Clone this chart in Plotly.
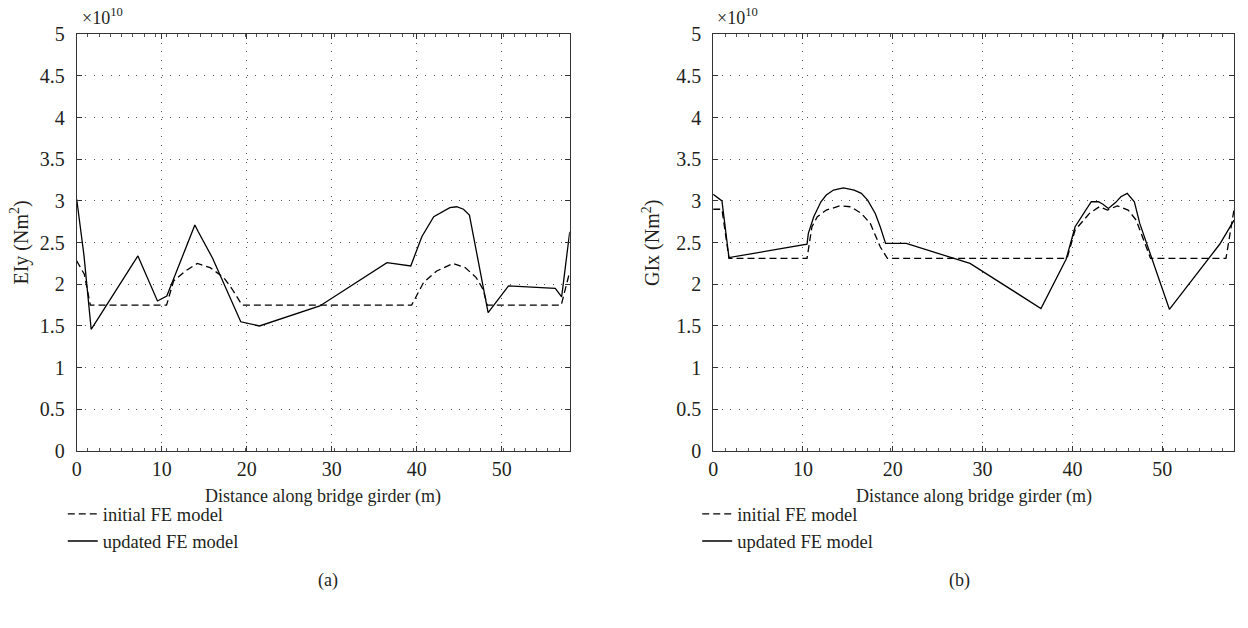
import plotly.graph_objects as go

# Distance along the girder (m) and stiffness values (in units of 1e10 N·m²)
ely_init_x = [0, 0.9, 1.6, 10.57, 11.4, 12.8, 14.2, 15.7, 17.3, 18.3, 19.45,
              39.4, 40.8, 42.35, 44.3, 45.7, 47.0, 47.8, 48.3, 57.0, 58]
ely_init_y = [2.28, 2.12, 1.75, 1.75, 2.04, 2.16, 2.25, 2.20, 2.08, 1.94, 1.75,
              1.75, 2.02, 2.16, 2.25, 2.20, 2.08, 1.94, 1.75, 1.75, 2.15]

ely_upd_x = [0, 0.85, 1.7, 7.2, 9.5, 10.6, 13.9, 14.3, 16.0, 19.3, 21.5, 28.6,
             36.5, 39.3, 40.6, 42.0, 43.9, 44.7, 45.5, 46.2, 48.4, 50.8, 56.3,
             57.05, 58]
ely_upd_y = [3.02, 2.35, 1.46, 2.34, 1.80, 1.86, 2.71, 2.63, 2.31, 1.55, 1.50,
             1.74, 2.26, 2.22, 2.57, 2.81, 2.92, 2.93, 2.90, 2.83, 1.66, 1.98,
             1.95, 1.85, 2.63]

gix_init_x = [0, 0.98, 1.76, 10.45, 11.0, 11.6, 12.6, 14.1, 15.3, 16.5, 17.5,
              18.6, 19.4, 39.4, 40.3, 41.9, 43.0, 43.9, 45.0, 46.2, 47.1, 48.1,
              48.7, 57.1, 58]
gix_init_y = [2.90, 2.90, 2.31, 2.31, 2.69, 2.81, 2.89, 2.94, 2.93, 2.85, 2.73,
              2.45, 2.31, 2.31, 2.65, 2.85, 2.93, 2.89, 2.94, 2.89, 2.77, 2.49,
              2.31, 2.31, 2.90]

gix_upd_x = [0, 0.98, 1.76, 10.2, 10.45, 10.6, 11.2, 12.0, 12.6, 13.4, 14.5,
             15.7, 16.5, 17.2, 18.05, 18.6, 19.2, 21.5, 28.6, 36.5, 39.3, 40.3,
             41.5, 42.1, 42.9, 43.4, 44.0, 44.8, 45.4, 46.1, 46.9, 47.5, 50.8,
             56.4, 58]
gix_upd_y = [3.08, 3.00, 2.32, 2.48, 2.48, 2.61, 2.81, 2.99, 3.07, 3.13, 3.155,
             3.13, 3.09, 3.01, 2.85, 2.69, 2.49, 2.49, 2.25, 1.71, 2.30, 2.69,
             2.90, 2.99, 2.99, 2.96, 2.91, 2.98, 3.05, 3.09, 2.99, 2.73, 1.70,
             2.48, 2.77]

y_ticks = [0, 0.5, 1, 1.5, 2, 2.5, 3, 3.5, 4, 4.5, 5]
y_ticktext = ["0", "0.5", "1", "1.5", "2", "2.5", "3", "3.5", "4", "4.5", "5"]
x_ticks = [0, 10, 20, 30, 40, 50]

W, H = 1248, 628
FONT = "Liberation Serif"
TXT = "#231f20"
TICK_FS = 20
TITLE_FS = 18
LEG_FS = 18.5

fig = go.Figure()

def add_pair(xi, yi, xu, yu, xa, ya, leg):
    fig.add_trace(go.Scatter(x=xi, y=yi, mode="lines", name="initial FE model",
                             line=dict(color="black", width=1.3, dash="7px,4px"),
                             xaxis=xa, yaxis=ya, legend=leg))
    fig.add_trace(go.Scatter(x=xu, y=yu, mode="lines", name="updated FE model",
                             line=dict(color="black", width=1.3),
                             xaxis=xa, yaxis=ya, legend=leg))

add_pair(ely_init_x, ely_init_y, ely_upd_x, ely_upd_y, "x", "y", "legend")
add_pair(gix_init_x, gix_init_y, gix_upd_x, gix_upd_y, "x2", "y2", "legend2")

left_dom = [72 / W, 567 / W]
right_dom = [711 / W, 1234 / W]
y_dom = [1 - 456 / H, 1 - 24 / H]

xcommon = dict(range=[0, 58], tickvals=x_ticks, showline=True, mirror="ticks",
               linecolor="#333", linewidth=1, ticks="inside", ticklen=5,
               tickcolor="#333", showgrid=True, gridcolor="#555", gridwidth=1,
               griddash="1px,7.5px", zeroline=False,
               tickfont=dict(family=FONT, size=TICK_FS, color=TXT),
               minor=dict(ticks="inside", ticklen=3, tickcolor="#555", dtick=1.32,
                          showgrid=False))
ycommon = dict(range=[0, 5], tickvals=y_ticks, ticktext=y_ticktext, showline=True,
               mirror="ticks", linecolor="#333", linewidth=1, ticks="inside",
               ticklen=5, tickcolor="#333", showgrid=True, gridcolor="#555",
               gridwidth=1, griddash="1px,7.5px", zeroline=False,
               ticklabelstandoff=7,
               tickfont=dict(family=FONT, size=TICK_FS, color=TXT))

legend_style = dict(xanchor="left", yanchor="top", bgcolor="rgba(0,0,0,0)",
                    font=dict(family=FONT, size=LEG_FS, color=TXT),
                    itemwidth=30, tracegroupgap=0)

fig.update_layout(
    width=W, height=H, margin=dict(l=0, r=0, t=0, b=0),
    paper_bgcolor="white", plot_bgcolor="white",
    font=dict(family=FONT, size=TITLE_FS, color=TXT),
    xaxis=dict(domain=left_dom, anchor="y", **xcommon),
    yaxis=dict(domain=y_dom, anchor="x", **ycommon),
    xaxis2=dict(domain=right_dom, anchor="y2", **xcommon),
    yaxis2=dict(domain=y_dom, anchor="x2", **ycommon),
    legend=dict(x=58 / W, y=1 - 502 / H, **legend_style),
    legend2=dict(x=695 / W, y=1 - 502 / H, **legend_style),
    showlegend=True,
)

annots = [
    # multiplier labels
    dict(x=75 / W, y=1 - 6 / H, text="×10<sup>10</sup>", xanchor="left", size=18),
    dict(x=713 / W, y=1 - 6 / H, text="×10<sup>10</sup>", xanchor="left", size=18),
    # y-axis titles
    dict(x=15 / W, y=1 - 240 / H, text="EIy (Nm<sup>2</sup>)", textangle=-90, size=20),
    dict(x=649 / W, y=1 - 240 / H, text="GIx (Nm<sup>2</sup>)", textangle=-90, size=20),
    # x-axis titles
    dict(x=sum(left_dom) / 2, y=1 - 503 / H, text="Distance along bridge girder (m)",
         size=TITLE_FS),
    dict(x=sum(right_dom) / 2, y=1 - 503 / H, text="Distance along bridge girder (m)",
         size=TITLE_FS),
    # panel captions
    dict(x=324 / W, y=1 - 590 / H, text="(a)", size=TITLE_FS),
    dict(x=958 / W, y=1 - 590 / H, text="(b)", size=TITLE_FS),
]
for a in annots:
    a.setdefault("xanchor", "center")
    a.setdefault("yanchor", "middle")
    size = a.pop("size")
    fig.add_annotation(xref="paper", yref="paper", showarrow=False,
                       font=dict(family=FONT, size=size, color=TXT), **a)

fig.write_html("out.html")
